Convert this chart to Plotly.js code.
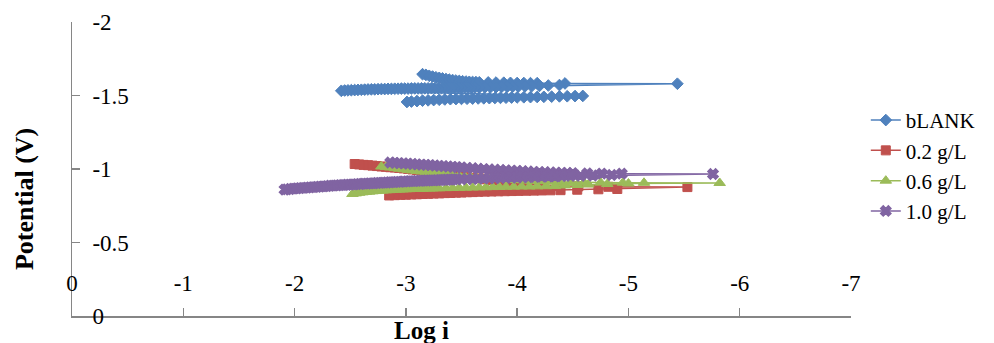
<!DOCTYPE html>
<html>
<head>
<meta charset="utf-8">
<script src="https://cdn.plot.ly/plotly-3.0.1.min.js"></script>
<style>
  html, body { margin: 0; padding: 0; background: #ffffff; }
  #chart { width: 994px; height: 343px; }
</style>
</head>
<body>
<div id="chart"></div>
<script>
// Tafel polarisation curves: potential (V) against log i, one scan per inhibitor dose.
const seriesNames = ["bLANK", "0.2 g/L", "0.6 g/L", "1.0 g/L"];

const xTickValues = [0, -1, -2, -3, -4, -5, -6, -7];
const xTickLabels = ["0", "-1", "-2", "-3", "-4", "-5", "-6", "-7"];
const yTickValues = [0, -0.5, -1, -1.5, -2];
const yTickLabels = ["0", "-0.5", "-1", "-1.5", "-2"];

// bLANK: cathodic arm, return arm, then the high-potential arm
const blankLogI = [
  -3.15, -3.18, -3.21, -3.24, -3.27, -3.30, -3.33, -3.36, -3.39, -3.42, -3.45, -3.48, -3.51, -3.54,
  -3.57, -3.60, -3.63, -3.66, -3.74, -3.81, -3.88, -3.94, -4.00, -4.06, -4.12, -4.18, -4.43, -5.44,
  -4.38, -4.28, -4.20, -4.13, -4.07, -4.01, -3.96, -3.91, -3.86, -3.81, -3.76, -3.71, -3.66,
  -3.62, -3.59, -3.56, -3.53, -3.50, -3.47, -3.44, -3.41, -3.38, -3.35, -3.32, -3.29, -3.26, -3.23,
  -3.20, -3.17, -3.14, -3.11, -3.08, -3.05, -3.02, -2.99, -2.96, -2.93, -2.90, -2.87, -2.84, -2.81,
  -2.78, -2.75, -2.72, -2.69, -2.66, -2.63, -2.60, -2.57, -2.54, -2.51, -2.48, -2.45, -2.42,
  -4.59, -4.52, -4.45, -4.38, -4.31, -4.24, -4.18, -4.12, -4.06, -4.00, -3.95, -3.90, -3.85, -3.80,
  -3.75, -3.70, -3.65, -3.60, -3.55, -3.50, -3.45, -3.40, -3.35, -3.30, -3.25, -3.20, -3.15, -3.10,
  -3.05, -3.01
];
const blankPotential = [
  -1.645, -1.640, -1.634, -1.629, -1.624, -1.620, -1.616, -1.612, -1.608, -1.605, -1.602, -1.599, -1.597, -1.595,
  -1.593, -1.592, -1.591, -1.590, -1.589, -1.588, -1.587, -1.586, -1.585, -1.585, -1.584, -1.584, -1.582, -1.580,
  -1.571, -1.568, -1.565, -1.563, -1.562, -1.561, -1.560, -1.559, -1.558, -1.557, -1.556, -1.555, -1.554,
  -1.554, -1.554, -1.553, -1.553, -1.553, -1.552, -1.552, -1.552, -1.551, -1.551, -1.551, -1.550, -1.550, -1.550,
  -1.549, -1.549, -1.549, -1.548, -1.548, -1.548, -1.547, -1.547, -1.547, -1.546, -1.546, -1.545, -1.545, -1.544,
  -1.544, -1.543, -1.542, -1.542, -1.541, -1.540, -1.539, -1.538, -1.537, -1.536, -1.535, -1.534, -1.532,
  -1.497, -1.496, -1.495, -1.494, -1.492, -1.491, -1.490, -1.489, -1.488, -1.487, -1.486, -1.485, -1.484, -1.483,
  -1.482, -1.481, -1.480, -1.479, -1.478, -1.477, -1.476, -1.475, -1.473, -1.471, -1.469, -1.467, -1.465, -1.462,
  -1.459, -1.456
];

// 0.2 g/L
const dose02LogI = [
  -2.54, -2.58, -2.62, -2.66, -2.70, -2.74, -2.78, -2.82, -2.86, -2.90, -2.94, -2.98, -3.02, -3.06,
  -3.10, -3.14, -3.18, -3.22, -3.26, -3.30, -3.35, -3.40, -3.45, -3.50, -3.55, -3.60, -3.66, -3.72,
  -3.78, -3.85, -3.92, -4.00, -4.10, -4.22, -4.36, -4.55, -4.82, -5.53,
  -4.90, -4.73, -4.54, -4.39, -4.30, -4.22, -4.15, -4.08, -4.01, -3.95, -3.89, -3.83, -3.77, -3.71,
  -3.65, -3.60, -3.55, -3.50, -3.45, -3.40, -3.35, -3.30, -3.25, -3.20, -3.15, -3.10, -3.05, -3.00,
  -2.95, -2.90, -2.85
];
const dose02Potential = [
  -1.034, -1.031, -1.028, -1.026, -1.023, -1.020, -1.017, -1.015, -1.012, -1.010, -1.007, -1.004, -1.001, -0.997,
  -0.993, -0.989, -0.985, -0.981, -0.977, -0.973, -0.968, -0.963, -0.958, -0.953, -0.947, -0.941, -0.936, -0.930,
  -0.924, -0.918, -0.912, -0.905, -0.898, -0.892, -0.886, -0.882, -0.879, -0.877,
  -0.864, -0.862, -0.859, -0.856, -0.855, -0.854, -0.853, -0.852, -0.851, -0.850, -0.849, -0.848, -0.847, -0.846,
  -0.845, -0.843, -0.842, -0.840, -0.839, -0.837, -0.836, -0.834, -0.833, -0.831, -0.830, -0.828, -0.827, -0.825,
  -0.824, -0.822, -0.820
];

// 0.6 g/L
const dose06LogI = [
  -2.78, -2.82, -2.86, -2.90, -2.94, -2.98, -3.02, -3.06, -3.10, -3.14, -3.18, -3.22, -3.26, -3.30,
  -3.34, -3.38, -3.43, -3.48, -3.53, -3.58, -3.63, -3.68, -3.74, -3.80, -3.86, -3.92, -3.98, -4.05,
  -4.12, -4.20, -4.29, -4.38, -4.48, -4.60, -4.75, -4.95, -5.14, -5.82,
  -5.00, -4.81, -4.64, -4.54, -4.43, -4.34, -4.26, -4.18, -4.11, -4.04, -3.97, -3.90, -3.84, -3.78,
  -3.72, -3.66, -3.60, -3.54, -3.48, -3.42, -3.36, -3.30,
  -3.27, -3.24, -3.21, -3.18, -3.15, -3.12, -3.09, -3.06, -3.03, -3.00, -2.97, -2.94, -2.91, -2.88,
  -2.85, -2.82, -2.79, -2.76, -2.73, -2.70, -2.67, -2.64, -2.61, -2.58, -2.55, -2.52
];
const dose06Potential = [
  -1.017, -1.013, -1.010, -1.006, -1.002, -0.998, -0.994, -0.990, -0.987, -0.983, -0.979, -0.976, -0.972, -0.969,
  -0.966, -0.963, -0.959, -0.955, -0.951, -0.948, -0.945, -0.942, -0.939, -0.935, -0.932, -0.929, -0.926, -0.923,
  -0.920, -0.917, -0.914, -0.912, -0.910, -0.909, -0.908, -0.907, -0.906, -0.905,
  -0.901, -0.898, -0.895, -0.891, -0.888, -0.884, -0.883, -0.882, -0.881, -0.881, -0.880, -0.879, -0.878, -0.877,
  -0.876, -0.875, -0.874, -0.873, -0.872, -0.871, -0.870, -0.869,
  -0.869, -0.868, -0.867, -0.867, -0.866, -0.865, -0.864, -0.864, -0.863, -0.862, -0.861, -0.860, -0.859, -0.858,
  -0.856, -0.855, -0.853, -0.852, -0.850, -0.848, -0.846, -0.844, -0.841, -0.838, -0.834, -0.830
];

// 1.0 g/L
const dose10LogI = [
  -2.86, -2.90, -2.94, -2.98, -3.02, -3.06, -3.10, -3.14, -3.18, -3.22, -3.26, -3.30, -3.34, -3.38,
  -3.42, -3.46, -3.50, -3.55, -3.60, -3.65, -3.70, -3.75, -3.80, -3.85, -3.90, -3.95, -4.00, -4.05,
  -4.10, -4.15, -4.20, -4.25, -4.30, -4.35, -4.40, -4.45, -4.50, -4.63, -4.76, -4.94, -5.76,
  -4.85, -4.68, -4.57, -4.48, -4.40, -4.34, -4.28, -4.22, -4.16, -4.10, -4.05, -4.00, -3.95, -3.90,
  -3.85, -3.80, -3.75, -3.70, -3.65, -3.60, -3.55, -3.50,
  -3.46, -3.43, -3.40, -3.37, -3.34, -3.31, -3.28, -3.25, -3.22, -3.19, -3.16, -3.13, -3.10, -3.07,
  -3.04, -3.01, -2.98, -2.95, -2.92, -2.89, -2.86, -2.83, -2.80, -2.77, -2.74, -2.71, -2.68, -2.65,
  -2.62, -2.59, -2.56, -2.53, -2.50, -2.47, -2.44, -2.41, -2.38, -2.35, -2.32, -2.29, -2.26, -2.23,
  -2.20, -2.17, -2.14, -2.11, -2.08, -2.05, -2.02, -1.99, -1.96, -1.93, -1.91
];
const dose10Potential = [
  -1.044, -1.042, -1.040, -1.038, -1.036, -1.034, -1.032, -1.030, -1.028, -1.026, -1.024, -1.021, -1.019, -1.017,
  -1.015, -1.013, -1.011, -1.008, -1.005, -1.002, -0.999, -0.997, -0.995, -0.993, -0.991, -0.989, -0.987, -0.985,
  -0.983, -0.981, -0.979, -0.978, -0.976, -0.975, -0.974, -0.973, -0.972, -0.970, -0.969, -0.968, -0.966,
  -0.959, -0.956, -0.954, -0.953, -0.951, -0.950, -0.949, -0.948, -0.947, -0.945, -0.944, -0.943, -0.942, -0.941,
  -0.940, -0.938, -0.937, -0.936, -0.935, -0.933, -0.932, -0.931,
  -0.930, -0.929, -0.928, -0.927, -0.926, -0.925, -0.924, -0.923, -0.923, -0.922, -0.921, -0.920, -0.919, -0.918,
  -0.917, -0.916, -0.915, -0.913, -0.912, -0.911, -0.910, -0.908, -0.907, -0.906, -0.905, -0.903, -0.902, -0.901,
  -0.900, -0.898, -0.897, -0.895, -0.894, -0.893, -0.891, -0.890, -0.888, -0.887, -0.886, -0.884, -0.882, -0.880,
  -0.879, -0.877, -0.875, -0.873, -0.871, -0.870, -0.868, -0.866, -0.864, -0.862, -0.860
];

const FONT = "'Liberation Serif', 'Times New Roman', serif";
const AXIS_GREY = "#868686";

function scanTrace(name, xs, ys, color, symbol, size, outline) {
  return {
    type: "scatter",
    mode: "lines+markers",
    name: name,
    x: xs,
    y: ys,
    line: { color: color, width: 1.5 },
    marker: { color: color, symbol: symbol, size: size, line: { width: outline, color: color } },
    hoverinfo: "skip"
  };
}

const traces = [
  scanTrace(seriesNames[0], blankLogI, blankPotential, "#4F81BD", "diamond", 9, 1),
  scanTrace(seriesNames[1], dose02LogI, dose02Potential, "#C0504D", "square", 9, 1),
  scanTrace(seriesNames[2], dose06LogI, dose06Potential, "#9BBB59", "triangle-up", 10, 1),
  scanTrace(seriesNames[3], dose10LogI, dose10Potential, "#8064A2", "x", 9, 1.5)
];

const layout = {
  width: 994,
  height: 343,
  margin: { l: 72, r: 143, t: 22, b: 27, pad: 0 },
  paper_bgcolor: "#ffffff",
  plot_bgcolor: "#ffffff",
  font: { family: FONT, size: 23, color: "#000000" },
  showlegend: true,
  legend: {
    x: 1.019, xanchor: "left",
    y: 0.735, yanchor: "top",
    font: { family: FONT, size: 21, color: "#000000" },
    bgcolor: "rgba(0,0,0,0)",
    tracegroupgap: 0,
    itemwidth: 30
  },
  xaxis: {
    range: [0, -7],
    tickmode: "array",
    tickvals: xTickValues,
    ticktext: xTickLabels,
    showgrid: false,
    zeroline: false,
    showline: true,
    linecolor: AXIS_GREY,
    linewidth: 1.5,
    ticks: "inside",
    ticklen: 8,
    tickwidth: 1.5,
    tickcolor: AXIS_GREY,
    ticklabelposition: "inside",
    ticklabelstandoff: 14,
    ticklabeloverflow: "allow",
    tickfont: { family: FONT, size: 23, color: "#000000" },
    fixedrange: true
  },
  yaxis: {
    range: [0, -2],
    tickmode: "array",
    tickvals: yTickValues,
    ticktext: yTickLabels,
    showgrid: false,
    zeroline: false,
    showline: true,
    linecolor: AXIS_GREY,
    linewidth: 1.5,
    ticks: "inside",
    ticklen: 8,
    tickwidth: 1.5,
    tickcolor: AXIS_GREY,
    ticklabelposition: "inside",
    ticklabelstandoff: 14,
    ticklabeloverflow: "allow",
    tickfont: { family: FONT, size: 23, color: "#000000" },
    fixedrange: true
  },
  annotations: [
    {
      text: "<b>Potential (V)</b>",
      xref: "paper", yref: "paper",
      x: -0.0603, y: 0.398,
      xanchor: "center", yanchor: "middle",
      textangle: -90,
      showarrow: false,
      font: { family: FONT, size: 26, color: "#000000" }
    },
    {
      text: "<b>Log i</b>",
      xref: "paper", yref: "paper",
      x: 0.4487, y: -0.048,
      xanchor: "center", yanchor: "middle",
      showarrow: false,
      font: { family: FONT, size: 25, color: "#000000" }
    }
  ]
};

Plotly.newPlot("chart", traces, layout, { staticPlot: true, displayModeBar: false });
</script>
</body>
</html>
